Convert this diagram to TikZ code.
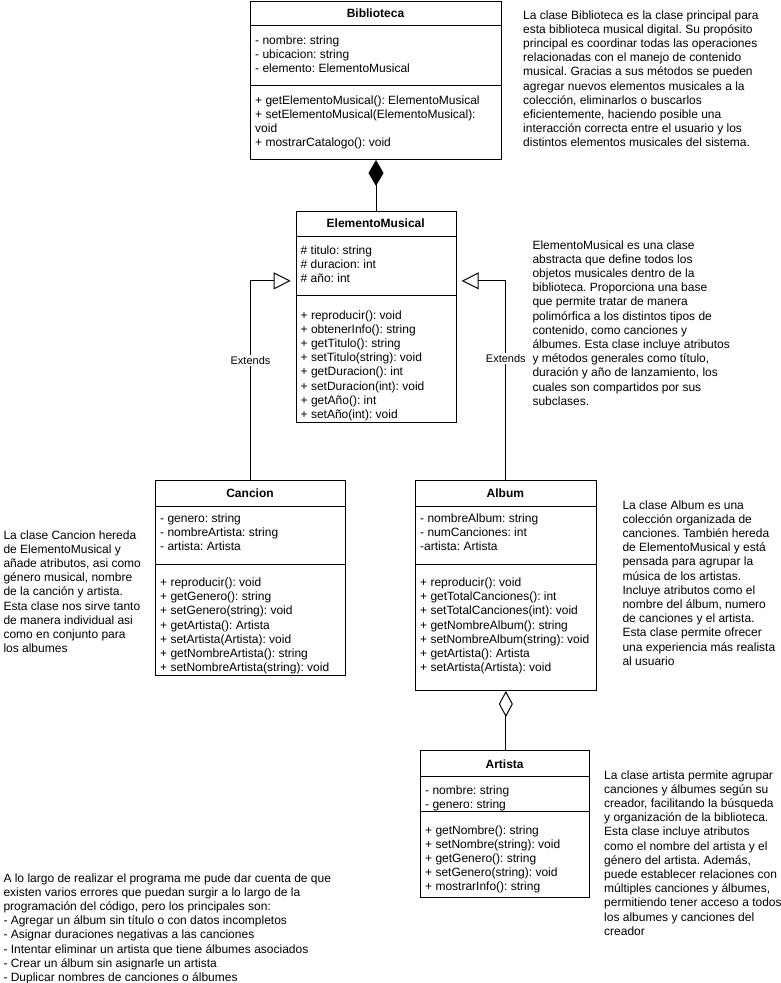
\documentclass[tikz,border=0pt]{standalone}
\usepackage{fontspec}
\setmainfont{Liberation Sans}
\usetikzlibrary{arrows.meta}
\frenchspacing

\begin{document}
\begin{tikzpicture}[x=1pt,y=-1pt,
  every node/.style={font=\fontsize{12}{14.2}\selectfont},
  umlbox/.style={draw, line width=1pt, inner sep=0, anchor=north west, fill=white},
  umltitle/.style={font=\fontsize{12}{14.2}\selectfont\bfseries, inner sep=0},
  members/.style={anchor=north west, inner sep=0, align=left},
  notetext/.style={anchor=north west, inner sep=0, align=left},
  divider/.style={line width=1pt},
  conn/.style={line width=1pt},
  extlabel/.style={fill=white, inner sep=1pt, font=\fontsize{11}{13}\selectfont},
  composition/.style={conn, {Diamond[length=26pt,width=15pt]}-},
  aggregation/.style={conn, {Diamond[open,length=26pt,width=14pt]}-},
  generalization/.style={conn, -{Triangle[open,length=17pt,width=17pt]}, shorten >=5pt}
]
\useasboundingbox (0,0) rectangle (780,983);

% ---------- Biblioteca ----------
\node[umlbox, minimum width=251pt, minimum height=158pt] (bib) at (250,1) {};
\node[umltitle] (bibT) at (375.5,13) {Biblioteca};
\draw[divider] (bib.west |- 0,25) -- (bib.east |- 0,25);
\draw[divider] (bib.west |- 0,85) -- (bib.east |- 0,85);
\node[members] (bibA) at (255,34) {\strut - nombre: string\\- ubicacion: string\\- elemento: ElementoMusical};
\node[members] (bibM) at (255,94) {\strut + getElementoMusical(): ElementoMusical\\+ setElementoMusical(ElementoMusical):\\void\\+ mostrarCatalogo(): void};

% ---------- ElementoMusical ----------
\node[umlbox, minimum width=160pt, minimum height=211.3pt] (em) at (295.7,210.7) {};
\node[umltitle] (emT) at (375.7,223) {ElementoMusical};
\draw[divider] (em.west |- 0,236) -- (em.east |- 0,236);
\draw[divider] (em.west |- 0,295) -- (em.east |- 0,295);
\node[members] (emA) at (300.5,244) {\strut \# titulo: string\\\# duracion: int\\\# año: int};
\node[members] (emM) at (300.5,309) {\strut + reproducir(): void\\+ obtenerInfo(): string\\+ getTitulo(): string\\+ setTitulo(string): void\\+ getDuracion(): int\\+ setDuracion(int): void\\+ getAño(): int\\+ setAño(int): void};

% ---------- Cancion ----------
\node[umlbox, minimum width=190pt, minimum height=195pt] (can) at (155,480) {};
\node[umltitle] (canT) at (250,493.3) {Cancion};
\draw[divider] (can.west |- 0,506.7) -- (can.east |- 0,506.7);
\draw[divider] (can.west |- 0,564.3) -- (can.east |- 0,564.3);
\node[members] (canA) at (160,512.3) {\strut - genero: string\\- nombreArtista: string\\- artista: Artista};
\node[members] (canM) at (160,576.3) {\strut + reproducir(): void\\+ getGenero(): string\\+ setGenero(string): void\\+ getArtista(): Artista\\+ setArtista(Artista): void\\+ getNombreArtista(): string\\+ setNombreArtista(string): void};

% ---------- Album ----------
\node[umlbox, minimum width=180.7pt, minimum height=210pt] (alb) at (415,480) {};
\node[umltitle] (albT) at (505.35,493.3) {Album};
\draw[divider] (alb.west |- 0,506.7) -- (alb.east |- 0,506.7);
\draw[divider] (alb.west |- 0,564.3) -- (alb.east |- 0,564.3);
\node[members] (albA) at (420,512.3) {\strut - nombreAlbum: string\\- numCanciones: int\\-artista: Artista};
\node[members] (albM) at (420,576.3) {\strut + reproducir(): void\\+ getTotalCanciones(): int\\+ setTotalCanciones(int): void\\+ getNombreAlbum(): string\\+ setNombreAlbum(string): void\\+ getArtista(): Artista\\+ setArtista(Artista): void};

% ---------- Artista ----------
\node[umlbox, minimum width=169.3pt, minimum height=147pt] (art) at (420,750) {};
\node[umltitle] (artT) at (504.65,764) {Artista};
\draw[divider] (art.west |- 0,776.7) -- (art.east |- 0,776.7);
\draw[divider] (art.west |- 0,811.7) -- (art.east |- 0,811.7);
\node[members] (artA) at (425,784) {\strut - nombre: string\\- genero: string};
\node[members] (artM) at (425,824) {\strut + getNombre(): string\\+ setNombre(string): void\\+ getGenero(): string\\+ setGenero(string): void\\+ mostrarInfo(): string};

% ---------- Relationships ----------
\draw[composition] (bib.south) -- (bib.south |- em.north);
\draw[generalization] (can.north) |- ([yshift=36pt]em.west)
  node[pos=0.3, extlabel] (ext1) {Extends};
\draw[generalization] (alb.north) |- ([yshift=36pt]em.east)
  node[pos=0.305, extlabel] (ext2) {Extends};
\draw[aggregation] (alb.south) -- (alb.south |- art.north);

% ---------- Notes ----------
\node[notetext] (noteBib) at (523,9) {\strut La clase Biblioteca es la clase principal para\\esta biblioteca musical digital. Su propósito\\principal es coordinar todas las operaciones\\relacionadas con el manejo de contenido\\musical. Gracias a sus métodos se pueden\\agregar nuevos elementos musicales a la\\colección, eliminarlos o buscarlos\\eficientemente, haciendo posible una\\interacción correcta entre el usuario y los\\distintos elementos musicales del sistema.};

\node[notetext] (noteEm) at (532.3,239) {\strut ElementoMusical es una clase\\abstracta que define todos los\\objetos musicales dentro de la\\biblioteca. Proporciona una base\\que permite tratar de manera\\polimórfica a los distintos tipos de\\contenido, como canciones y\\álbumes. Esta clase incluye atributos\\y métodos generales como título,\\duración y año de lanzamiento, los\\cuales son compartidos por sus\\subclases.};

\node[notetext] (noteCan) at (3.3,529) {\strut La clase Cancion hereda\\de ElementoMusical y\\añade atributos, asi como\\género musical, nombre\\de la canción y artista.\\Esta clase nos sirve tanto\\de manera individual asi\\como en conjunto para\\los albumes};

\node[notetext] (noteAlb) at (622.3,499) {\strut La clase Album es una\\colección organizada de\\canciones. También hereda\\de ElementoMusical y está\\pensada para agrupar la\\música de los artistas.\\Incluye atributos como el\\nombre del álbum, numero\\de canciones y el artista.\\Esta clase permite ofrecer\\una experiencia más realista\\al usuario};

\node[notetext] (noteArt) at (604,769) {\strut La clase artista permite agrupar\\canciones y álbumes según su\\creador, facilitando la búsqueda\\y organización de la biblioteca.\\Esta clase incluye atributos\\como el nombre del artista y el\\género del artista. Además,\\puede establecer relaciones con\\múltiples canciones y álbumes,\\permitiendo tener acceso a todos\\los albumes y canciones del\\creador};

\node[notetext] (noteErr) at (3.3,872) {\strut A lo largo de realizar el programa me pude dar cuenta de que\\existen varios errores que puedan surgir a lo largo de la\\programación del código, pero los principales son:\\- Agregar un álbum sin título o con datos incompletos\\- Asignar duraciones negativas a las canciones\\- Intentar eliminar un artista que tiene álbumes asociados\\- Crear un álbum sin asignarle un artista\\- Duplicar nombres de canciones o álbumes};
\end{tikzpicture}
\end{document}
